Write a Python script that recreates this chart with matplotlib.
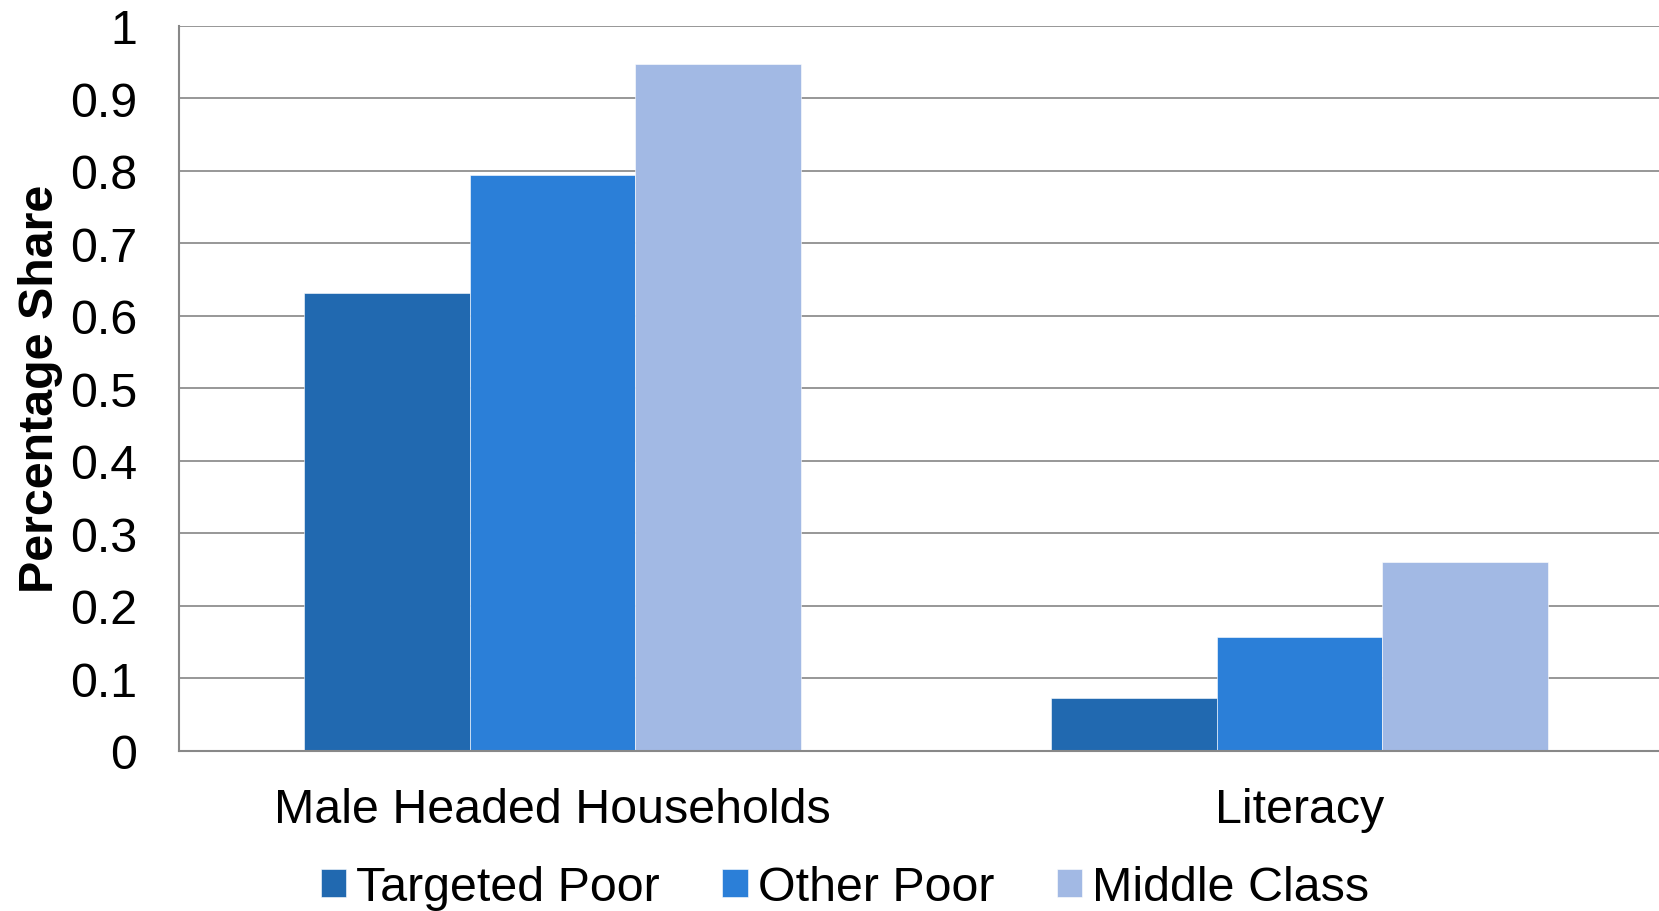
import matplotlib
matplotlib.use("Agg")
import matplotlib.pyplot as plt
import numpy as np

plt.rcParams['font.family'] = ['Liberation Sans', 'DejaVu Sans']

categories = ["Male Headed Households", "Literacy"]
series_names = ["Targeted Poor", "Other Poor", "Middle Class"]
targeted_poor = [0.632, 0.073]
other_poor = [0.794, 0.157]
middle_class = [0.947, 0.260]
colors = ["#2169B0", "#2B7FD8", "#A2B9E4"]
y_ticks = [0, 0.1, 0.2, 0.3, 0.4, 0.5, 0.6, 0.7, 0.8, 0.9, 1]
y_tick_labels = ["0", "0.1", "0.2", "0.3", "0.4", "0.5", "0.6", "0.7", "0.8", "0.9", "1"]

FS = 34.8

fig = plt.figure(figsize=(16.59, 9.12), dpi=100)
# plot area runs past the right edge of the canvas
ax = fig.add_axes([179 / 1659, 1 - 751.7 / 912, 1494 / 1659, 725 / 912])

x = np.arange(len(categories))
bar_w = 0.222
values = [targeted_poor, other_poor, middle_class]
for i, (name, vals, col) in enumerate(zip(series_names, values, colors)):
    ax.bar(x + (i - 1) * bar_w, vals, width=bar_w, color=col, label=name,
           edgecolor="#ffffff", linewidth=0.4, zorder=3)

ax.set_xlim(-0.5, 1.5)
ax.set_ylim(0, 1)
ax.set_yticks(y_ticks)
ax.set_yticklabels(y_tick_labels)
ax.set_xticks(x)
ax.set_xticklabels(categories)

ax.yaxis.grid(True, color="#8f8f8f", linewidth=1.3, zorder=0)
ax.set_axisbelow(True)
for side in ["top", "right"]:
    ax.spines[side].set_visible(False)
for side in ["left", "bottom"]:
    ax.spines[side].set_color("#888888")
    ax.spines[side].set_linewidth(1.5)
    ax.spines[side].set_zorder(4)

ax.tick_params(axis="y", length=0, pad=30, labelsize=FS, labelcolor="black")
ax.tick_params(axis="x", length=0, pad=26, labelsize=FS, labelcolor="black")

fig.text(41 / 1659, 1 - 389 / 912, "Percentage Share", rotation=90,
         fontsize=FS, fontweight="bold", ha="center", va="center")

fig.legend(loc="center", bbox_to_anchor=(845 / 1659, 1 - 889 / 912), ncol=3,
           frameon=False, fontsize=FS, handlelength=0.52, handleheight=0.52,
           handletextpad=0.21, columnspacing=1.3, borderpad=0, borderaxespad=0)

fig.savefig("out.png", dpi=100)
